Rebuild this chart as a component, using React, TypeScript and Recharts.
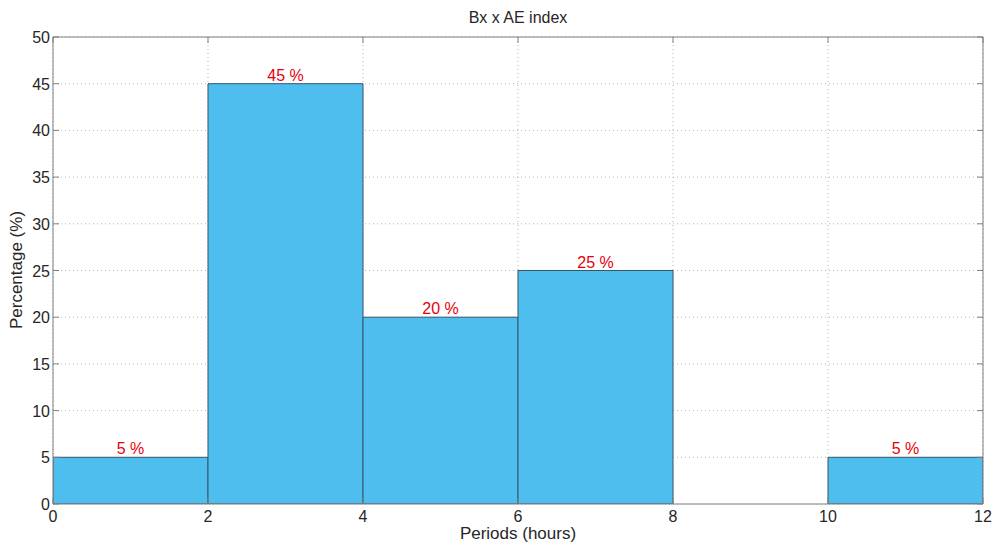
import React from "react";
import { ComposedChart, Bar, Line, XAxis, YAxis, CartesianGrid, LabelList } from "recharts";

const binMids = [1, 3, 5, 7, 9, 11];
const percents = [5, 45, 20, 25, 0, 5];
const xTicks = [0, 2, 4, 6, 8, 10, 12];
const yTicks = [0, 5, 10, 15, 20, 25, 30, 35, 40, 45, 50];

const data = binMids.map((mid, i) => ({ mid, pct: percents[i] }));

const FONT = "Arial, 'Liberation Sans', sans-serif";
const AXIS = "#808080";
const TEXT = "#262626";

const BottomTick = ({ x, y, payload }: any) => (
    <g>
        <line x1={x} x2={x} y1={y} y2={y - 6} stroke={AXIS} />
        <text x={x} y={y + 18} textAnchor="middle" fill={TEXT} fontSize={16} fontFamily={FONT}>{payload.value}</text>
    </g>
);

const TopTick = ({ x, y }: any) => <line x1={x} x2={x} y1={y} y2={y + 6} stroke={AXIS} />;

const LeftTick = ({ x, y, payload }: any) => (
    <g>
        <line x1={x} x2={x + 6} y1={y} y2={y} stroke={AXIS} />
        <text x={x - 3} y={y + 6} textAnchor="end" fill={TEXT} fontSize={16} fontFamily={FONT}>{payload.value}</text>
    </g>
);

const RightTick = ({ x, y }: any) => <line x1={x} x2={x - 6} y1={y} y2={y} stroke={AXIS} />;

export default function App() {
    return (
        <div style={{ position: "absolute", left: 0, top: 0, width: 994, height: 545, background: "#fff" }}>
            <ComposedChart width={994} height={545} data={data} barCategoryGap={0} barGap={0}
                margin={{ top: 27, right: 6, left: 13, bottom: 11 }}>
                <XAxis xAxisId="bottom" dataKey="mid" type="number" domain={[0, 12]} ticks={xTicks} allowDataOverflow
                    height={30} tickSize={0} tickMargin={0} stroke={AXIS} tick={<BottomTick />} tickLine={false} />
                <XAxis xAxisId="top" dataKey="mid" orientation="top" type="number" domain={[0, 12]} ticks={xTicks} allowDataOverflow
                    height={10} tickSize={0} tickMargin={0} stroke={AXIS} tick={<TopTick />} tickLine={false} />
                <YAxis yAxisId="left" type="number" domain={[0, 50]} ticks={yTicks} allowDataOverflow
                    width={40} tickSize={0} tickMargin={0} stroke={AXIS} tick={<LeftTick />} tickLine={false} />
                <YAxis yAxisId="right" orientation="right" type="number" domain={[0, 50]} ticks={yTicks} allowDataOverflow
                    width={5} tickSize={0} tickMargin={0} stroke={AXIS} tick={<RightTick />} tickLine={false} />
                <CartesianGrid xAxisId="bottom" yAxisId="left" stroke="#b4b4b4" strokeDasharray="1 3" />
                <Bar xAxisId="bottom" yAxisId="left" dataKey="pct" fill="#4DBEEE" stroke="#3a5566" strokeWidth={1}
                    isAnimationActive={false}>
                    <LabelList dataKey="pct" position="top" offset={3} fill="#e8000b" fontSize={16} fontFamily={FONT}
                        formatter={(v: any) => (v ? `${v} %` : "")} />
                </Bar>
                <Line xAxisId="top" yAxisId="right" dataKey="pct" stroke="none" dot={false} activeDot={false}
                    isAnimationActive={false} />
            </ComposedChart>
            <div style={{ position: "absolute", left: 53, width: 930, top: 9, textAlign: "center", fontFamily: FONT, fontSize: 16, color: TEXT }}>
                Bx x AE index
            </div>
            <div style={{ position: "absolute", left: 53, width: 930, top: 524, textAlign: "center", fontFamily: FONT, fontSize: 17, color: TEXT }}>
                Periods (hours)
            </div>
            <div style={{ position: "absolute", left: 17, top: 270, width: 0, height: 0 }}>
                <div style={{ position: "absolute", left: 0, top: 0, transform: "translate(-50%, -50%) rotate(-90deg)", whiteSpace: "nowrap", fontFamily: FONT, fontSize: 17, color: TEXT }}>
                    Percentage (%)
                </div>
            </div>
        </div>
    );
}
